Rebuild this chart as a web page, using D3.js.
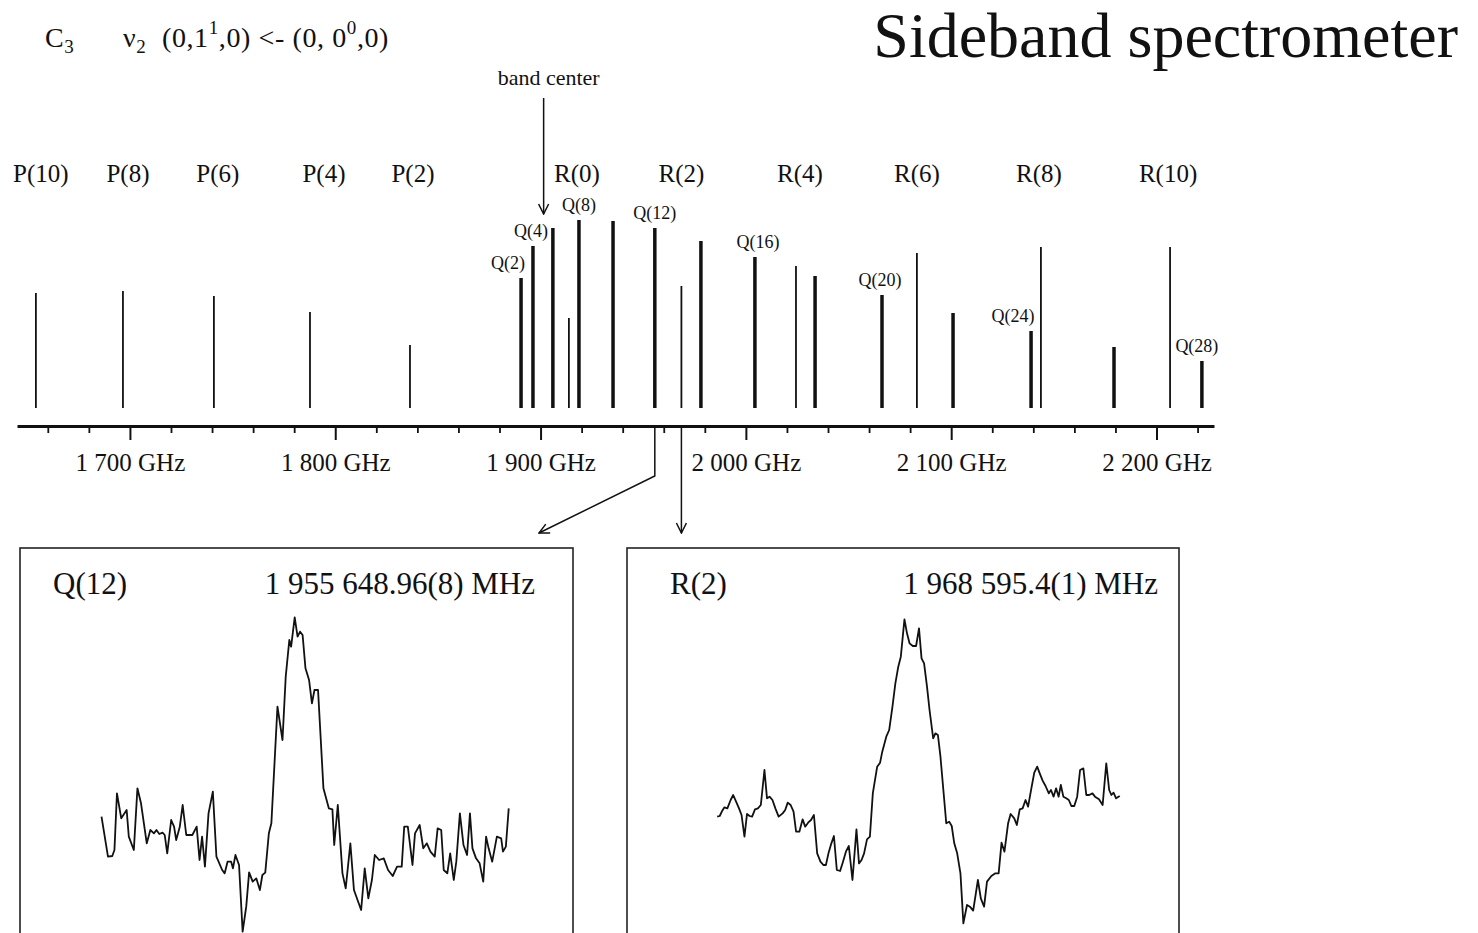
<!DOCTYPE html>
<html>
<head>
<meta charset="utf-8">
<script src="https://cdn.jsdelivr.net/npm/d3@7"></script>
<style>
  body { margin: 0; background: #fff; }
  svg text { font-family: "Liberation Serif", "Times New Roman", serif; fill: #111; }
</style>
</head>
<body>
<div id="chart"></div>
<script>
// C3 nu2 band, stick spectrum (GHz, relative intensity)
const lineNames = ['P(10)', 'P(8)', 'P(6)', 'P(4)', 'P(2)',
  'Q(2)', 'Q(4)', 'Q(6)', 'R(0)', 'Q(8)', 'Q(10)', 'Q(12)', 'R(2)', 'Q(14)',
  'Q(16)', 'R(4)', 'Q(18)', 'Q(20)', 'R(6)', 'Q(22)', 'Q(24)', 'R(8)',
  'Q(26)', 'R(10)', 'Q(28)'];
const lineFreqs = [1654.2, 1696.6, 1740.9, 1787.7, 1836.4,
  1890.5, 1896.3, 1906.0, 1913.8, 1918.7, 1935.3, 1955.65, 1968.6, 1978.1,
  2004.4, 2024.4, 2033.7, 2066.3, 2083.3, 2100.9, 2138.9, 2143.7,
  2179.3, 2206.6, 2222.1];
const lineInts = [115, 117, 112, 96, 63,
  130, 162, 180, 90, 188, 187, 180, 122, 167,
  151, 142, 132, 113, 155, 95, 77, 161,
  61, 161, 47];
const labeledQ = ['Q(2)', 'Q(4)', 'Q(8)', 'Q(12)', 'Q(16)', 'Q(20)', 'Q(24)', 'Q(28)'];

const majorTicks = [1700, 1800, 1900, 2000, 2100, 2200];
const tickLabels = ['1 700 GHz', '1 800 GHz', '1 900 GHz', '2 000 GHz', '2 100 GHz', '2 200 GHz'];
const bandCenter = 1901.5;

// insets: recorded scans (sweep channel, signal arb. units)
const q12Name = 'Q(12)', q12Freq = '1 955 648.96(8) MHz';
const q12Sweep = [232, 250, 262, 268, 275, 287, 302, 308, 322, 332, 342, 358, 368, 378, 385, 393, 402, 408, 415, 426,
  434, 440, 450, 458, 468, 485, 497, 505, 512, 520, 530, 542, 552, 568, 575, 583, 593, 598, 605, 615,
  625, 635, 643, 653, 663, 673, 680, 688, 698, 705, 722, 736, 745, 755, 760, 770, 778, 785, 792, 800,
  810, 818, 825, 835, 850, 865, 875, 880, 890, 903, 912, 925, 935, 955, 965, 975, 985, 993, 1005, 1018,
  1030, 1043, 1055, 1068, 1075, 1085, 1098, 1105, 1118, 1128, 1138, 1148, 1160, 1168, 1178, 1185, 1195, 1203, 1213, 1220,
  1230, 1240, 1250, 1258, 1265, 1275, 1285, 1295, 1303, 1310, 1320, 1333, 1345, 1350, 1358, 1366];
const q12Signal = [370, 250, 252, 270, 440, 365, 390, 310, 270, 455, 410, 290, 330, 320, 330, 318, 322, 315, 260, 360,
  340, 300, 340, 405, 315, 315, 340, 240, 310, 220, 380, 445, 250, 210, 200, 235, 235, 215, 255, 225,
  25, 100, 203, 175, 185, 150, 195, 202, 320, 350, 700, 600, 790, 900, 880, 968, 910, 925, 915, 815,
  780, 710, 750, 750, 455, 395, 392, 285, 405, 200, 155, 290, 150, 90, 215, 125, 180, 255, 240, 245,
  210, 192, 220, 220, 340, 340, 225, 320, 345, 275, 290, 265, 250, 335, 330, 210, 200, 260, 180, 235,
  380, 285, 255, 380, 275, 245, 230, 175, 310, 275, 235, 310, 305, 265, 280, 395];

const r2Name = 'R(2)', r2Freq = '1 968 595.4(1) MHz';
const r2Sweep = [268, 275, 282, 288, 296, 305, 312, 320, 328, 335, 343, 350, 357, 364, 372, 380, 388, 398, 405, 412,
  420, 428, 437, 448, 455, 462, 470, 478, 485, 494, 503, 510, 518, 526, 534, 543, 552, 560, 567, 574,
  582, 589, 597, 606, 614, 622, 630, 640, 651, 658, 665, 672, 680, 688, 696, 708, 716, 722, 733, 741,
  750, 758, 766, 773, 783, 790, 797, 806, 815, 823, 830, 837, 845, 852, 862, 868, 875, 882, 890, 898,
  906, 913, 920, 928, 937, 945, 955, 963, 972, 985, 993, 1002, 1010, 1022, 1033, 1042, 1050, 1058, 1068, 1075,
  1085, 1092, 1100, 1108, 1116, 1123, 1132, 1140, 1148, 1155, 1163, 1171, 1180, 1186, 1193, 1200, 1207, 1213, 1220, 1228,
  1235, 1242, 1250, 1258, 1266, 1275, 1283, 1291, 1300, 1307, 1318, 1328, 1338, 1346, 1352, 1358, 1365, 1375];
const r2Signal = [370, 372, 388, 398, 395, 420, 435, 415, 395, 375, 310, 378, 372, 370, 392, 395, 405, 510, 425, 430,
  420, 395, 370, 380, 390, 412, 405, 385, 325, 325, 362, 340, 352, 360, 375, 260, 235, 225, 225, 260,
  290, 312, 210, 207, 235, 265, 282, 180, 332, 230, 240, 260, 302, 310, 440, 520, 532, 565, 610, 630,
  700, 770, 820, 850, 962, 920, 890, 882, 882, 935, 845, 830, 760, 690, 605, 620, 615, 550, 450, 350,
  355, 342, 290, 260, 200, 50, 105, 100, 88, 180, 125, 100, 175, 192, 200, 200, 292, 265, 350, 378,
  365, 345, 392, 395, 420, 400, 455, 502, 520, 500, 478, 462, 440, 450, 430, 455, 430, 465, 430, 425,
  420, 402, 402, 430, 510, 515, 435, 435, 440, 430, 422, 405, 530, 450, 435, 442, 425, 432];

const W = 1478, H = 933;
const serif = '"Liberation Serif", "Times New Roman", serif';

const svg = d3.select('#chart').append('svg')
  .attr('width', W).attr('height', H);

const defs = svg.append('defs');
defs.append('marker')
  .attr('id', 'vee')
  .attr('viewBox', '0 0 12 12')
  .attr('refX', 11).attr('refY', 6)
  .attr('markerWidth', 12).attr('markerHeight', 12)
  .attr('markerUnits', 'userSpaceOnUse')
  .attr('orient', 'auto')
  .append('path')
  .attr('d', 'M1,1 L11,6 L1,11')
  .attr('fill', 'none').attr('stroke', '#111').attr('stroke-width', 1.5);

// scales
const axisY = 426;
const x = d3.scaleLinear().domain([1645, 2228]).range([17, 1214]);
const y = d3.scaleLinear().domain([0, 200]).range([408, 208]);

// title
const title = svg.append('text').attr('x', 45).attr('y', 47)
  .attr('font-size', 28).attr('letter-spacing', 0.6);
title.append('tspan').text('C');
title.append('tspan').attr('font-size', 19).attr('dy', 6).text('3');
title.append('tspan').attr('x', 123).attr('dy', -6).text('ν');
title.append('tspan').attr('font-size', 19).attr('dy', 6).text('2');
title.append('tspan').attr('x', 162).attr('dy', -6).text('(0,1');
title.append('tspan').attr('font-size', 19).attr('dy', -13).text('1');
title.append('tspan').attr('dy', 13).text(',0) <- (0, 0');
title.append('tspan').attr('font-size', 19).attr('dy', -13).text('0');
title.append('tspan').attr('dy', 13).text(',0)');

svg.append('text')
  .attr('x', 1458).attr('y', 57)
  .attr('text-anchor', 'end')
  .attr('font-size', 64)
  .text('Sideband spectrometer');

// band center
svg.append('text')
  .attr('x', x(bandCenter) + 5).attr('y', 85)
  .attr('text-anchor', 'middle').attr('font-size', 22)
  .text('band center');
svg.append('line')
  .attr('x1', x(bandCenter)).attr('x2', x(bandCenter))
  .attr('y1', 98).attr('y2', 214)
  .attr('stroke', '#111').attr('stroke-width', 1.5)
  .attr('marker-end', 'url(#vee)');

// sticks
const lines = lineNames.map((n, i) => ({ name: n, f: lineFreqs[i], v: lineInts[i], branch: n[0] }));

svg.append('g').selectAll('line')
  .data(lines).join('line')
  .attr('x1', d => x(d.f)).attr('x2', d => x(d.f))
  .attr('y1', y(0)).attr('y2', d => y(d.v))
  .attr('stroke', '#111')
  .attr('stroke-width', d => d.branch === 'Q' ? 3.5 : 1.8);

// P / R branch labels
const bigNudge = { 'P(10)': 5, 'P(8)': 5, 'P(6)': 4, 'P(4)': 14, 'P(2)': 3, 'R(0)': 8, 'R(4)': 4, 'R(8)': -2, 'R(10)': -2 };
svg.append('g').selectAll('text')
  .data(lines.filter(d => d.branch !== 'Q')).join('text')
  .attr('x', d => x(d.f) + (bigNudge[d.name] || 0))
  .attr('y', 182)
  .attr('text-anchor', 'middle').attr('font-size', 25)
  .text(d => d.name);

// Q branch labels
const qNudge = { 'Q(2)': -13, 'Q(4)': -2, 'Q(16)': 3, 'Q(20)': -2, 'Q(24)': -18, 'Q(28)': -5 };
svg.append('g').selectAll('text')
  .data(lines.filter(d => labeledQ.includes(d.name))).join('text')
  .attr('x', d => x(d.f) + (qNudge[d.name] || 0))
  .attr('y', d => y(d.v) - 9)
  .attr('text-anchor', 'middle').attr('font-size', 18)
  .text(d => d.name);

// frequency axis
const minorTicks = d3.range(1660, 2221, 20).filter(t => !majorTicks.includes(t));
const minorAxis = svg.append('g')
  .attr('transform', `translate(0,${axisY})`)
  .call(d3.axisBottom(x).tickValues(minorTicks).tickSize(7).tickSizeOuter(0).tickFormat(''));
minorAxis.select('.domain').attr('stroke-width', 3).attr('stroke', '#111');
minorAxis.selectAll('.tick line').attr('stroke-width', 1.8).attr('stroke', '#111');

const majorAxis = svg.append('g')
  .attr('transform', `translate(0,${axisY})`)
  .call(d3.axisBottom(x).tickValues(majorTicks).tickSize(14).tickSizeOuter(0)
    .tickFormat((d, i) => tickLabels[i]));
majorAxis.select('.domain').remove();
majorAxis.selectAll('.tick line').attr('stroke-width', 2).attr('stroke', '#111');
majorAxis.selectAll('.tick text')
  .attr('font-family', serif).attr('font-size', 25).attr('fill', '#111')
  .attr('y', 27).attr('dy', '0.71em');

// insets
const boxTop = 548;
const insets = [
  { name: q12Name, freq: q12Freq, f: 1955.65, sweep: q12Sweep, signal: q12Signal, x0: 20, x1: 573, padL: 33, padR: 38, dom: [5, 1545] },
  { name: r2Name, freq: r2Freq, f: 1968.6, sweep: r2Sweep, signal: r2Signal, x0: 627, x1: 1179, padL: 43, padR: 21, dom: [20, 1538] }
];
const sy = d3.scaleLinear().domain([0, 1200]).range([940, 540]);

insets.forEach(ins => {
  const g = svg.append('g');
  g.append('rect')
    .attr('x', ins.x0).attr('y', boxTop)
    .attr('width', ins.x1 - ins.x0).attr('height', H - boxTop + 20)
    .attr('fill', 'none').attr('stroke', '#222').attr('stroke-width', 1.6);
  g.append('text')
    .attr('x', ins.x0 + ins.padL).attr('y', 594)
    .attr('font-size', 31).text(ins.name);
  g.append('text')
    .attr('x', ins.x1 - ins.padR).attr('y', 594)
    .attr('text-anchor', 'end').attr('font-size', 31).text(ins.freq);

  const sx = d3.scaleLinear().domain(ins.dom).range([ins.x0, ins.x1]);
  const pts = ins.sweep.map((s, i) => [sx(s), sy(ins.signal[i])]);
  g.append('path')
    .attr('d', d3.line()(pts))
    .attr('fill', 'none').attr('stroke', '#111').attr('stroke-width', 1.8)
    .attr('stroke-linejoin', 'round');
});

// connectors from the axis to the insets
const q12x = x(insets[0].f), r2x = x(insets[1].f);
svg.append('path')
  .attr('d', d3.line()([[q12x, axisY], [q12x, 476], [539, 533]]))
  .attr('fill', 'none').attr('stroke', '#111').attr('stroke-width', 1.5)
  .attr('marker-end', 'url(#vee)');
svg.append('path')
  .attr('d', d3.line()([[r2x, axisY], [r2x, 533]]))
  .attr('fill', 'none').attr('stroke', '#111').attr('stroke-width', 1.5)
  .attr('marker-end', 'url(#vee)');
</script>
</body>
</html>
